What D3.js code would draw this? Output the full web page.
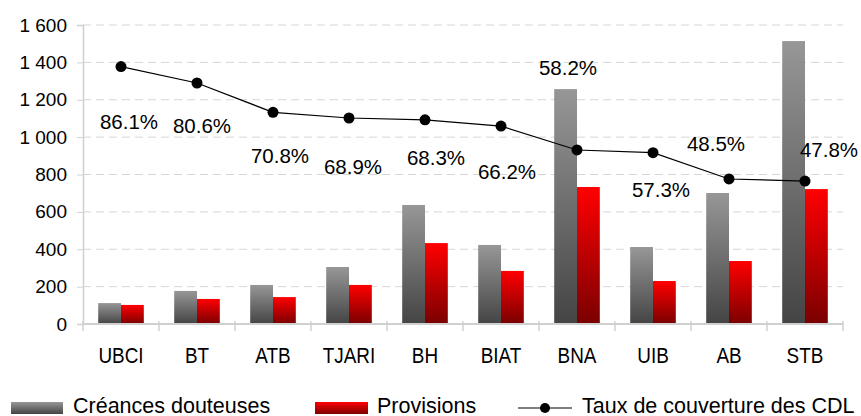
<!DOCTYPE html>
<html>
  <head>
    <meta charset="utf-8">
    <title>Créances douteuses et provisions</title>
    <script src="https://d3js.org/d3.v7.min.js"></script>
    <style>
      body { margin: 0; background: #fff; }
      svg text { font-family: "Liberation Sans", Arial, sans-serif; fill: #000; }
    </style>
  </head>
  <body>
    <svg width="861" height="416"></svg>
    <script>
      // values
      const banks = ["UBCI", "BT", "ATB", "TJARI", "BH", "BIAT", "BNA", "UIB", "AB", "STB"];
      const creances = [112, 177, 209, 305, 637, 423, 1257, 412, 701, 1514];
      const provisions = [102, 134, 144, 209, 433, 284, 733, 230, 337, 722];
      const taux = [86.1, 80.6, 70.8, 68.9, 68.3, 66.2, 58.2, 57.3, 48.5, 47.8];
      const yTicks = [0, 200, 400, 600, 800, 1000, 1200, 1400, 1600];
      const seriesNames = ["Créances douteuses", "Provisions", "Taux de couverture des CDL"];

      // where Excel dropped each % label, relative to its point
      const labelShift = [[8, 55], [5, 43], [7, 43], [4, 49], [11, 38], [6, 46], [-9, -82], [8, 37], [-13, -35], [24, -31]];

      const margin = {top: 25, right: 18, bottom: 92, left: 83};
      const svg = d3.select("svg");
      const width = +svg.attr("width");
      const height = +svg.attr("height");
      const plotRight = width - margin.right;
      const plotBottom = height - margin.bottom;

      const fr = d3.formatLocale({decimal: ",", thousands: "\u00a0", grouping: [3], currency: ["", ""]});
      const fmt = fr.format(",");

      const x0 = d3.scaleBand().domain(banks).range([margin.left, plotRight])
        .paddingInner(0.4).paddingOuter(0.2);
      const x1 = d3.scaleBand().domain(["c", "p"]).range([0, x0.bandwidth()]);
      const y = d3.scaleLinear().domain([0, 1600]).range([plotBottom, margin.top]);
      const yPct = d3.scaleLinear().domain([0, 100]).range([plotBottom, margin.top]);
      const cx = d => x0(d) + x0.bandwidth() / 2;

      // gradients
      const defs = svg.append("defs");
      function grad(id, top, bottom) {
        const g = defs.append("linearGradient").attr("id", id)
          .attr("x1", 0).attr("y1", 0).attr("x2", 0).attr("y2", 1);
        g.append("stop").attr("offset", "0%").attr("stop-color", top);
        g.append("stop").attr("offset", "100%").attr("stop-color", bottom);
      }
      grad("gGray", "#979797", "#444444");
      grad("gRed", "#ff0000", "#7a0000");

      // grid
      svg.append("g").selectAll("line").data(yTicks.slice(1)).join("line")
        .attr("x1", margin.left).attr("x2", plotRight)
        .attr("y1", d => y(d)).attr("y2", d => y(d))
        .attr("stroke", "#d6d6d6").attr("stroke-dasharray", "8,5");

      // y axis
      const yAxis = svg.append("g").attr("transform", `translate(${margin.left},0)`)
        .call(d3.axisLeft(y).tickValues(yTicks).tickFormat(fmt).tickSize(6).tickPadding(10));
      yAxis.select(".domain").attr("stroke", "#d0d0d0").attr("stroke-width", 1.5);
      yAxis.selectAll(".tick line").attr("stroke", "#d0d0d0");
      yAxis.selectAll(".tick text").attr("font-size", 19).attr("font-family", null).attr("fill", "#000");

      // bars
      const groups = svg.append("g").selectAll("g").data(banks).join("g")
        .attr("transform", d => `translate(${x0(d)},0)`);
      groups.append("rect")
        .attr("x", x1("c")).attr("width", x1.bandwidth())
        .attr("y", (d, i) => y(creances[i])).attr("height", (d, i) => y(0) - y(creances[i]))
        .attr("fill", "url(#gGray)");
      groups.append("rect")
        .attr("x", x1("p")).attr("width", x1.bandwidth())
        .attr("y", (d, i) => y(provisions[i])).attr("height", (d, i) => y(0) - y(provisions[i]))
        .attr("fill", "url(#gRed)");

      // x axis
      const step = x0.step();
      svg.append("line").attr("x1", margin.left).attr("x2", plotRight)
        .attr("y1", y(0)).attr("y2", y(0)).attr("stroke", "#d0d0d0").attr("stroke-width", 2);
      svg.append("g").selectAll("line").data(d3.range(banks.length + 1)).join("line")
        .attr("x1", i => margin.left + i * step).attr("x2", i => margin.left + i * step)
        .attr("y1", y(0) - 3).attr("y2", y(0) + 7)
        .attr("stroke", "#d0d0d0").attr("stroke-width", 1.5);
      const xAxis = svg.append("g").attr("transform", `translate(0,${y(0)})`)
        .call(d3.axisBottom(x0).tickSize(0).tickPadding(24));
      xAxis.select(".domain").remove();
      // labels in the source are tall and narrow
      xAxis.selectAll(".tick text").attr("font-size", 22).attr("font-family", null).attr("fill", "#000")
        .attr("dy", "0.71em").attr("y", 23).attr("transform", "scale(0.86,1)");

      // coverage line
      const line = d3.line().x((d, i) => cx(banks[i])).y(d => yPct(d));
      svg.append("path").datum(taux).attr("d", line)
        .attr("fill", "none").attr("stroke", "#000").attr("stroke-width", 1.2);
      svg.append("g").selectAll("circle").data(taux).join("circle")
        .attr("cx", (d, i) => cx(banks[i])).attr("cy", d => yPct(d)).attr("r", 5.5)
        .attr("fill", "#000");
      svg.append("g").selectAll("text").data(taux).join("text")
        .attr("x", (d, i) => cx(banks[i]) + labelShift[i][0])
        .attr("y", (d, i) => yPct(d) + labelShift[i][1])
        .attr("dy", "0.36em").attr("text-anchor", "middle").attr("font-size", 20.5)
        .text(d => d.toFixed(1) + "%");

      // legend
      const lg = svg.append("g").attr("transform", "translate(0,408)");
      lg.append("rect").attr("x", 11).attr("y", -6).attr("width", 52).attr("height", 12).attr("fill", "url(#gGray)");
      lg.append("text").attr("x", 73).attr("y", 5).attr("font-size", 21.5).text(seriesNames[0]);
      lg.append("rect").attr("x", 315).attr("y", -6).attr("width", 53).attr("height", 12).attr("fill", "url(#gRed)");
      lg.append("text").attr("x", 377).attr("y", 5).attr("font-size", 21.5).text(seriesNames[1]);
      lg.append("line").attr("x1", 518).attr("x2", 572).attr("y1", 0).attr("y2", 0)
        .attr("stroke", "#000").attr("stroke-width", 1.2);
      lg.append("circle").attr("cx", 545).attr("cy", 0).attr("r", 5).attr("fill", "#000");
      lg.append("text").attr("x", 582).attr("y", 5).attr("font-size", 21.5).text(seriesNames[2]);
    </script>
  </body>
</html>
